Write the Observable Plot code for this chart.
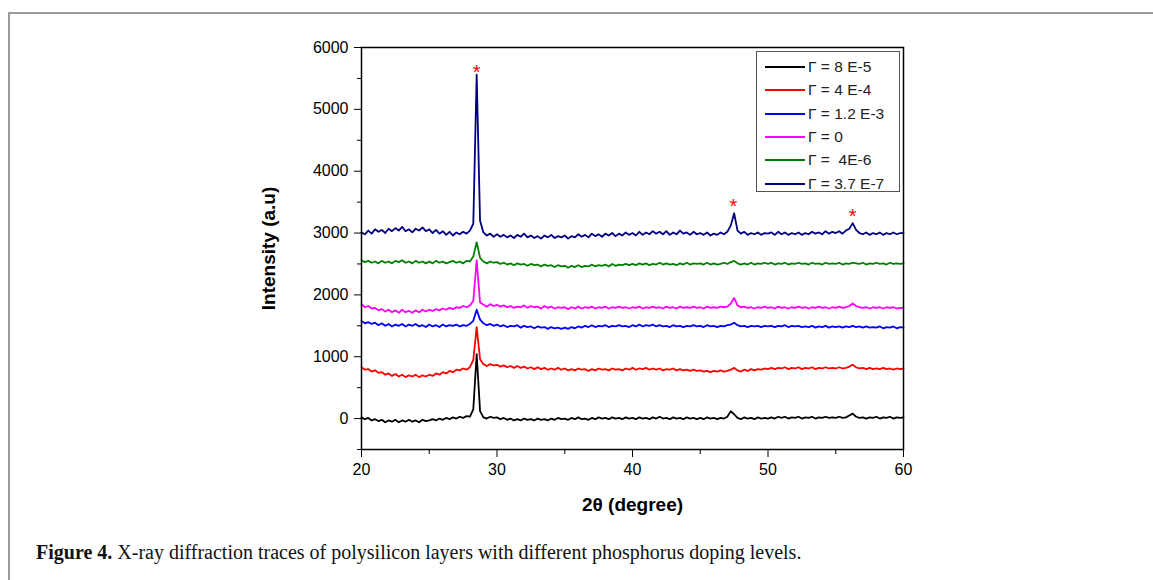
<!DOCTYPE html>
<html>
<head>
<meta charset="utf-8">
<script src="https://cdn.jsdelivr.net/npm/d3@7"></script>
<script src="https://cdn.jsdelivr.net/npm/@observablehq/plot@0.6"></script>
<style>
  html, body { margin: 0; padding: 0; background: #fff; }
  #page { position: relative; width: 1153px; height: 580px; overflow: hidden; }
  #frame { position: absolute; left: 8px; top: 12px; width: 1200px; height: 600px;
           border-left: 2px solid #9a9a9a; border-top: 2px solid #9a9a9a; }
  #chart { position: absolute; left: 0; top: 0; }
  #legend { position: absolute; left: 756px; top: 51px; width: 144px; height: 141px;
            border: 1px solid #555; background: #fff; box-sizing: border-box;
            font-family: "Liberation Sans", Arial, sans-serif; font-size: 15.5px; color: #222; }
  .row { position: absolute; left: 8px; height: 20px; display: flex; align-items: center; white-space: pre; }
  .row .sw { width: 40px; height: 2px; margin-right: 3px; }
  #caption { position: absolute; left: 36px; top: 541px; font-family: "Liberation Serif", "Times New Roman", serif;
             font-size: 20px; color: #111; white-space: nowrap; }
  g[aria-label="x-axis label"] text, g[aria-label="y-axis label"] text { font-weight: bold; font-size: 19px; }
</style>
</head>
<body>
<div id="page">
  <div id="frame"></div>
  <div id="chart"></div>
  <div id="legend"></div>
  <div id="caption"><b>Figure 4.</b> X-ray diffraction traces of polysilicon layers with different phosphorus doping levels.</div>
</div>
<script>
// ---- categories / legend ----
const seriesNames = ["Γ = 8 E-5", "Γ = 4 E-4", "Γ = 1.2 E-3", "Γ = 0", "Γ =  4E-6", "Γ = 3.7 E-7"];
const seriesColors = ["#000000", "#ff0000", "#0000ff", "#ff00ff", "#008000", "#000080"];

// ---- tick labels ----
const xTicks = [20, 30, 40, 50, 60];
const xMinorTicks = [25, 35, 45, 55];
const yTicks = [0, 1000, 2000, 3000, 4000, 5000, 6000];
const yMinorTicks = [-500, 500, 1500, 2500, 3500, 4500, 5500];

// ---- 2θ sample positions (every 0.25°, 20 → 60) ----
const twoTheta = d3.range(161).map(i => 20 + i * 0.25);

// ---- intensity values (each row = 5°) ----
const gamma8e5 = [
  20,-10,10,-30,-10,-40,-20,-60,-30,-50,-20,-60,-30,-50,-20,-50,-30,-60,-20,-40,
  -30,-10,-30,0,-20,10,-10,20,0,30,10,40,30,150,1040,120,20,0,30,10,
  20,-10,10,-20,0,-30,-10,-30,0,-20,-10,-30,0,-20,-10,-30,0,-20,10,-10,
  0,-20,10,-10,20,-10,0,-20,10,-10,20,0,10,-10,20,0,10,-10,20,0,
  10,-10,20,0,10,-10,20,0,30,0,10,-10,20,0,10,-10,20,0,10,-10,
  10,-10,20,0,10,-10,10,0,30,120,70,10,-10,20,0,10,-10,20,0,10,
  0,20,0,30,10,30,0,20,10,30,0,20,10,30,0,20,10,30,10,20,
  10,30,10,20,50,80,30,10,20,0,20,10,30,0,20,10,30,0,20,10,
  20];
const gamma4e4 = [
  830,790,800,760,780,740,750,710,730,690,720,680,710,670,700,680,710,670,700,680,
  710,690,730,710,750,730,770,750,790,780,810,790,830,950,1480,960,880,850,880,860,
  870,840,860,830,850,820,850,820,840,810,830,800,830,800,820,790,810,790,820,790,
  810,780,800,780,810,790,800,770,800,780,810,790,800,780,810,790,800,780,810,790,
  820,790,810,800,820,790,810,790,810,780,800,790,810,780,800,780,790,770,790,770,
  780,760,770,750,770,760,780,760,770,790,820,780,760,790,770,800,780,800,790,810,
  800,820,800,820,810,830,800,820,810,830,800,820,810,830,800,820,810,830,810,820,
  810,830,810,820,840,870,830,810,820,800,820,800,810,800,820,800,810,790,810,800,
  810];
const gamma12e3 = [
  1580,1540,1560,1530,1550,1510,1540,1500,1530,1490,1520,1500,1530,1490,1520,1500,1530,1490,1510,1480,
  1520,1490,1510,1480,1520,1490,1510,1500,1520,1490,1510,1500,1530,1580,1760,1600,1540,1510,1530,1500,
  1520,1490,1510,1480,1500,1490,1510,1470,1500,1480,1490,1460,1490,1470,1480,1450,1480,1460,1470,1450,
  1470,1450,1480,1460,1490,1470,1500,1480,1510,1480,1500,1490,1510,1480,1500,1490,1510,1490,1500,1480,
  1510,1490,1520,1490,1510,1500,1520,1490,1510,1490,1500,1480,1510,1490,1500,1480,1500,1490,1510,1490,
  1500,1480,1510,1490,1500,1480,1500,1490,1510,1520,1550,1510,1490,1500,1480,1500,1490,1500,1480,1500,
  1490,1500,1480,1500,1490,1510,1480,1500,1490,1500,1480,1490,1480,1500,1470,1490,1480,1500,1470,1490,
  1480,1490,1470,1490,1480,1500,1480,1490,1470,1490,1470,1480,1470,1490,1460,1480,1470,1490,1460,1480,
  1470];
const gamma0 = [
  1850,1800,1820,1780,1790,1750,1770,1730,1760,1720,1750,1710,1760,1720,1740,1710,1750,1720,1760,1730,
  1760,1740,1770,1750,1780,1760,1790,1770,1800,1790,1820,1800,1830,1900,2560,1880,1840,1810,1850,1820,
  1840,1810,1830,1800,1820,1790,1810,1800,1830,1790,1820,1800,1810,1780,1820,1790,1810,1780,1800,1790,
  1800,1770,1800,1780,1810,1780,1800,1790,1810,1780,1800,1790,1810,1780,1800,1790,1810,1790,1800,1780,
  1800,1790,1810,1780,1800,1790,1810,1790,1800,1780,1810,1790,1800,1780,1810,1790,1800,1790,1810,1790,
  1800,1780,1810,1790,1800,1790,1810,1800,1810,1860,1950,1830,1800,1810,1790,1800,1780,1800,1790,1810,
  1790,1800,1780,1810,1790,1800,1780,1800,1790,1810,1790,1800,1780,1800,1790,1810,1790,1800,1780,1800,
  1790,1810,1790,1800,1820,1860,1820,1800,1790,1800,1780,1800,1790,1800,1780,1800,1790,1800,1780,1790,
  1790];
const gamma4e6 = [
  2560,2530,2550,2520,2540,2510,2550,2520,2540,2510,2550,2530,2560,2520,2540,2510,2550,2520,2540,2510,
  2540,2510,2550,2520,2540,2510,2530,2550,2520,2540,2510,2550,2540,2620,2850,2600,2540,2510,2540,2520,
  2530,2500,2520,2490,2510,2480,2510,2490,2500,2470,2500,2480,2490,2460,2490,2470,2480,2450,2480,2460,
  2470,2440,2470,2450,2480,2450,2470,2460,2490,2460,2480,2470,2490,2460,2500,2470,2490,2480,2500,2480,
  2500,2480,2510,2490,2510,2480,2500,2490,2520,2490,2510,2490,2500,2480,2510,2490,2520,2490,2510,2500,
  2510,2490,2520,2490,2510,2490,2500,2520,2500,2530,2550,2510,2490,2510,2490,2520,2490,2510,2500,2520,
  2500,2520,2490,2510,2500,2520,2490,2510,2500,2520,2500,2510,2490,2520,2500,2510,2490,2520,2500,2510,
  2500,2520,2490,2510,2500,2520,2510,2500,2520,2490,2510,2500,2520,2500,2510,2490,2520,2500,2510,2500,
  2510];
const gamma37e7 = [
  3010,2980,3040,2990,3060,3020,3050,3000,3070,3030,3080,3040,3100,3030,3060,3010,3070,3040,3090,3030,
  3060,3000,3050,2990,3030,2970,3020,2960,3010,2980,3020,2990,3040,3150,5560,3200,3010,2960,2990,2940,
  2980,2940,2970,2930,2960,2920,2970,2940,2990,2930,2960,2920,2950,2910,2960,2930,2970,2920,2950,2930,
  2960,2910,2950,2930,2980,2940,2970,2930,2990,2950,2980,2940,2990,2960,3000,2950,2990,2960,3010,2970,
  3000,2960,3020,2970,3010,2980,3030,2990,3020,2980,3030,2970,3010,2980,3040,2990,3010,2970,3020,2980,
  3000,2970,3010,2960,2990,2970,3010,2980,3020,3120,3320,3040,2990,3020,2970,3000,2980,3010,2970,3000,
  2990,3010,2970,3020,2980,3010,2970,3000,2980,3010,2970,3000,2980,3020,2990,3010,2980,3030,2990,3020,
  3000,3030,2990,3040,3070,3160,3050,3000,2980,3010,2970,3000,2980,3010,2970,3000,2980,3010,2980,3000,
  3000];
const seriesValues = [gamma8e5, gamma4e4, gamma12e3, gamma0, gamma4e6, gamma37e7];

// ---- peak markers (*) ----
const starX = [28.5, 47.45, 56.25];
const starY = [5600, 3420, 3260];

// ---- build tables ----
const rows = [];
// draw order: last legend entry first so that black ends on top
for (let s = seriesNames.length - 1; s >= 0; s--) {
  seriesValues[s].forEach((v, i) => rows.push({series: seriesNames[s], x: twoTheta[i], y: v}));
}
const stars = starX.map((x, i) => ({x, y: starY[i]}));

const plot = Plot.plot({
  width: 1153,
  height: 530,
  marginLeft: 361,
  marginRight: 250,
  marginTop: 47,
  marginBottom: 81,
  style: {fontFamily: "'Liberation Sans', Arial, sans-serif", fontSize: "16px", color: "#000", background: "transparent"},
  x: {domain: [20, 60]},
  y: {domain: [-500, 6000]},
  color: {domain: seriesNames, range: seriesColors},
  marks: [
    Plot.lineY(rows, {x: "x", y: "y", z: "series", stroke: "series", strokeWidth: 1.8}),
    Plot.frame({stroke: "#000", strokeWidth: 1.5}),
    Plot.axisX({ticks: xTicks, tickSize: 8, tickPadding: 6, tickFormat: "d",
                label: "2θ (degree)", labelAnchor: "center", labelArrow: "none", labelOffset: 61}),
    Plot.axisX({ticks: xMinorTicks, tickSize: 5, tickFormat: () => "", label: null}),
    Plot.axisY({ticks: yTicks, tickSize: 7, tickPadding: 6, tickFormat: "d",
                label: "Intensity (a.u)", labelAnchor: "center", labelArrow: "none", labelOffset: 100}),
    Plot.axisY({ticks: yMinorTicks, tickSize: 4, tickFormat: () => "", label: null}),
    Plot.text(stars, {x: "x", y: "y", text: () => "*", fill: "#ff0000", fontSize: 20})
  ]
});
document.getElementById("chart").appendChild(plot);

// ---- legend (HTML) ----
const legend = document.getElementById("legend");
seriesNames.forEach((name, i) => {
  const r = document.createElement("div");
  r.className = "row";
  r.style.top = (5 + i * 23.3) + "px";
  const sw = document.createElement("span");
  sw.className = "sw";
  sw.style.background = seriesColors[i];
  const t = document.createElement("span");
  t.textContent = name;
  r.appendChild(sw); r.appendChild(t);
  legend.appendChild(r);
});
</script>
</body>
</html>
